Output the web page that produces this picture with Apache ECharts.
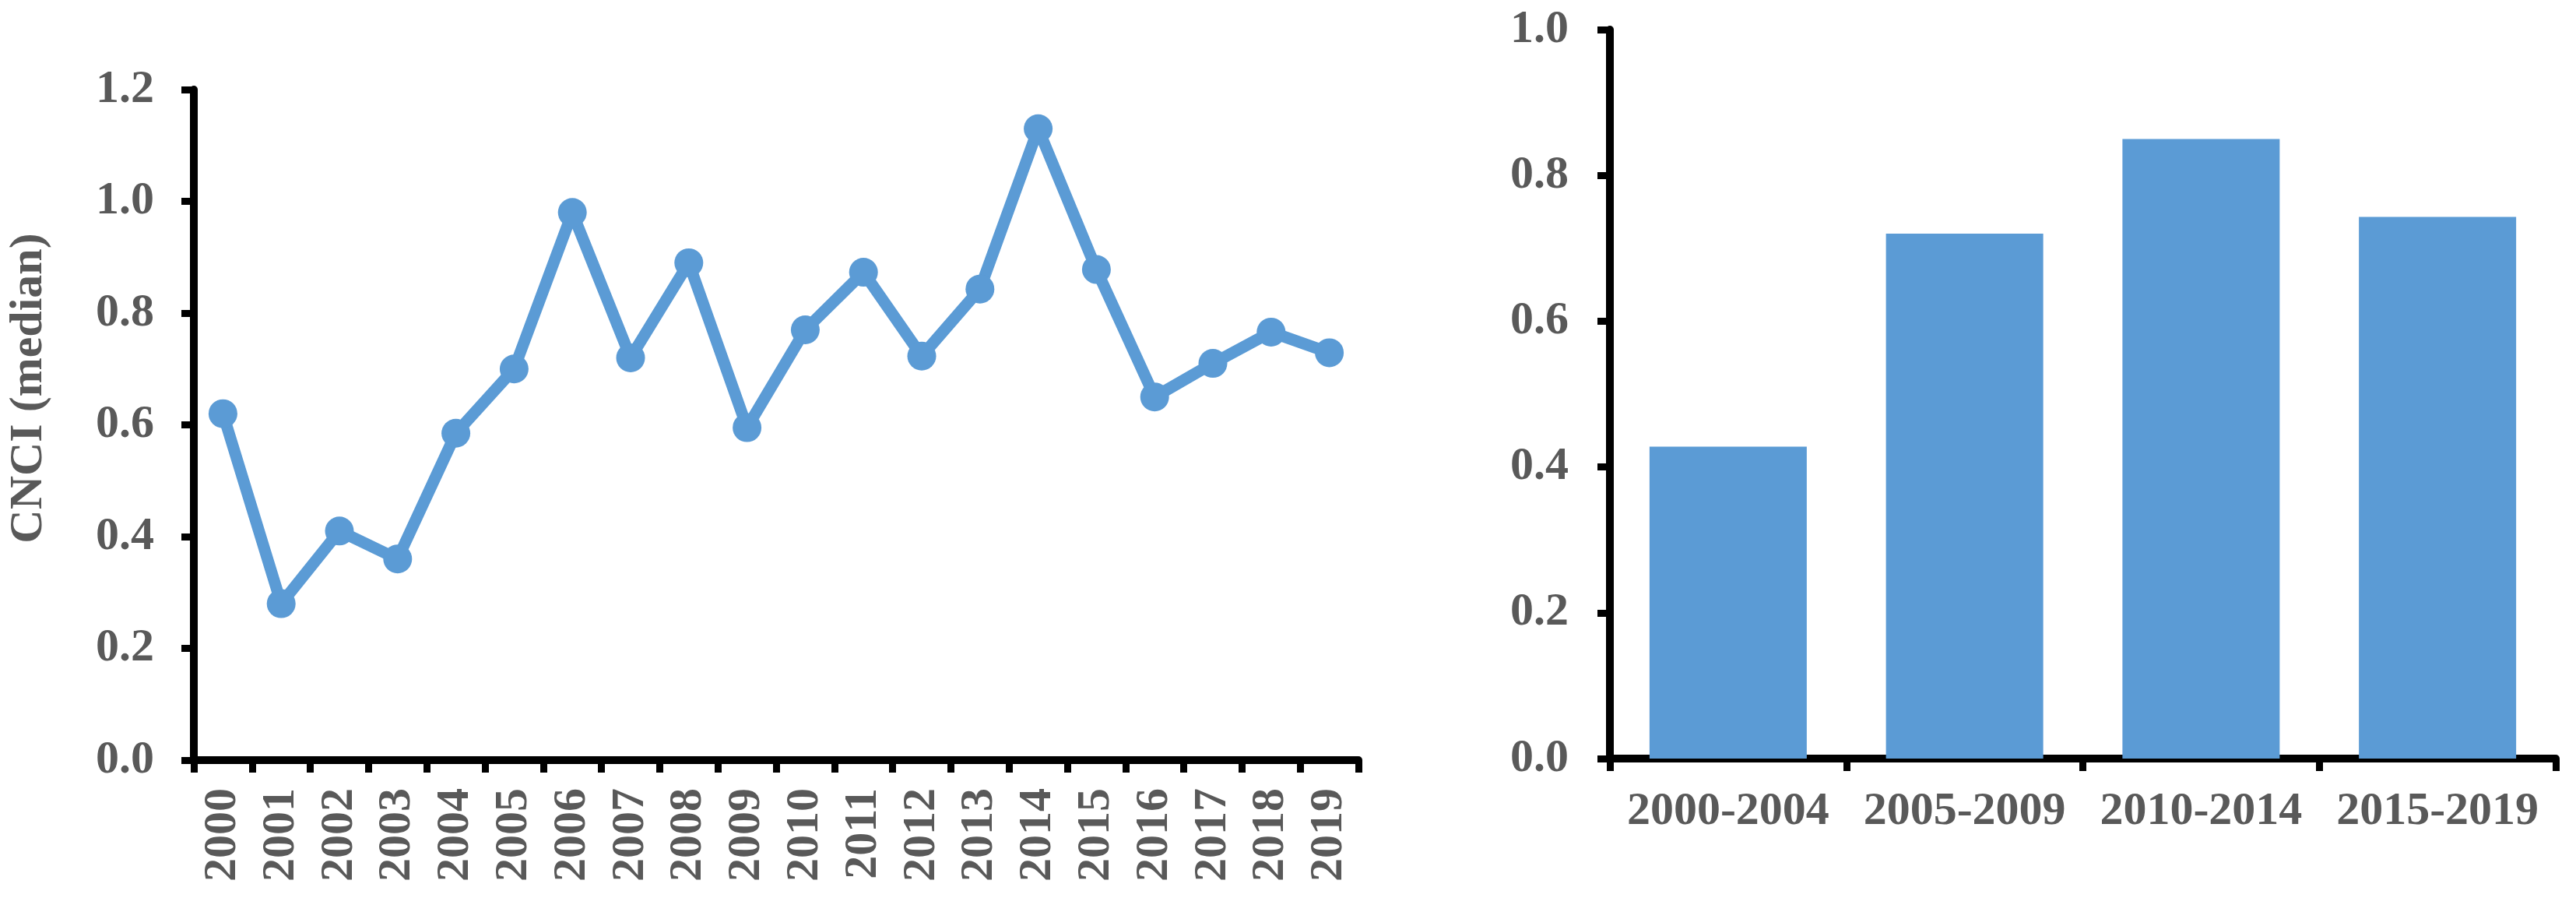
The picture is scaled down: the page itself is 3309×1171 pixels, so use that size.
<!DOCTYPE html>
<html>
<head>
<meta charset="utf-8">
<script src="https://cdn.jsdelivr.net/npm/echarts@6/dist/echarts.min.js"></script>
<style>
html,body{margin:0;padding:0;background:#fff;}
#c{width:3309px;height:1171px;}
</style>
</head>
<body>
<div id="c"></div>
<script>
const years = ['2000','2001','2002','2003','2004','2005','2006','2007','2008','2009','2010','2011','2012','2013','2014','2015','2016','2017','2018','2019'];
const cnciMedian = [0.62,0.28,0.41,0.36,0.585,0.70,0.98,0.72,0.89,0.595,0.77,0.873,0.723,0.843,1.13,0.878,0.65,0.71,0.766,0.729];
const periods = ['2000-2004','2005-2009','2010-2014','2015-2019'];
const periodValues = [0.428,0.72,0.85,0.743];
const leftTicks = {min:0, max:1.2, interval:0.2};
const rightTicks = {min:0, max:1.0, interval:0.2};

const FONT = '"Liberation Serif","Times New Roman",serif';
const TXT = '#595959';
const BLUE = '#5B9BD5';

const axisLine = {show:true, lineStyle:{color:'#000', width:10}};
const axisTick = {show:true, length:16, lineStyle:{color:'#000', width:9}};
const lblStyle = {color:TXT, fontFamily:FONT, fontWeight:'bold', fontSize:60};

const chart = echarts.init(document.getElementById('c'), null, {renderer:'canvas'});
chart.setOption({
  backgroundColor:'#fff',
  animation:false,
  grid:[
    {left:249, top:115, width:1496, height:861},
    {left:2068, top:38, width:1215, height:936}
  ],
  xAxis:[
    {type:'category', gridIndex:0, data:years, boundaryGap:true,
     axisLine:axisLine, axisTick:axisTick,
     axisLabel:Object.assign({rotate:90, margin:36, interval:0}, lblStyle),
     splitLine:{show:false}},
    {type:'category', gridIndex:1, data:periods, boundaryGap:true,
     axisLine:axisLine, axisTick:axisTick,
     axisLabel:Object.assign({margin:38, interval:0}, lblStyle),
     splitLine:{show:false}}
  ],
  yAxis:[
    {type:'value', gridIndex:0, min:leftTicks.min, max:leftTicks.max, interval:leftTicks.interval,
     name:'CNCI (median)', nameLocation:'middle', nameGap:182, nameRotate:90,
     nameTextStyle:{color:TXT, fontFamily:FONT, fontWeight:'bold', fontSize:60, padding:[0,0,0,94]},
     axisLine:axisLine, axisTick:axisTick,
     axisLabel:Object.assign({margin:51, formatter:v=>v.toFixed(1)}, lblStyle),
     splitLine:{show:false}},
    {type:'value', gridIndex:1, min:rightTicks.min, max:rightTicks.max, interval:rightTicks.interval,
     axisLine:axisLine, axisTick:axisTick,
     axisLabel:Object.assign({margin:53, formatter:v=>v.toFixed(1)}, lblStyle),
     splitLine:{show:false}}
  ],
  series:[
    {type:'line', xAxisIndex:0, yAxisIndex:0, data:cnciMedian,
     symbol:'circle', symbolSize:37,
     lineStyle:{color:BLUE, width:15},
     itemStyle:{color:BLUE}},
    {type:'bar', xAxisIndex:1, yAxisIndex:1, data:periodValues,
     barCategoryGap:'33.5%', itemStyle:{color:BLUE}}
  ]
});
</script>
</body>
</html>
